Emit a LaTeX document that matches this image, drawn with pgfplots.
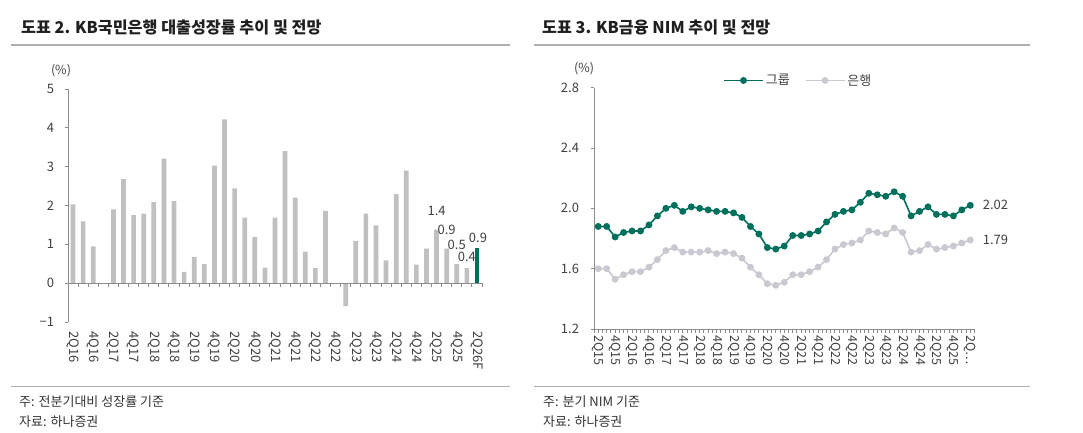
\documentclass[border=0pt]{standalone}
\usepackage{fontspec}
\setmainfont{Noto Sans CJK KR}
\usepackage{pgfplots}
\pgfplotsset{compat=1.18}
\definecolor{kbgreen}{RGB}{0,112,92}
\definecolor{bargray}{RGB}{192,192,192}
\definecolor{bankgray}{RGB}{202,200,208}
\definecolor{axisgray}{RGB}{140,140,140}
\definecolor{rulegray}{RGB}{175,175,175}
\definecolor{txt}{RGB}{64,64,64}
\begin{document}
\begin{tikzpicture}
\useasboundingbox (0,0) rectangle (1083bp,-433bp);
% titles and rules
\node[anchor=west, inner sep=0pt, font=\fontsize{16.2bp}{19bp}\selectfont\bfseries, text=black!88] at (21bp,-27.5bp) {도표 2. KB국민은행 대출성장률 추이 및 전망};
\node[anchor=west, inner sep=0pt, font=\fontsize{16.2bp}{19bp}\selectfont\bfseries, text=black!88] at (542bp,-27.5bp) {도표 3. KB금융 NIM 추이 및 전망};
\draw[rulegray, line width=1.2bp] (11bp,-45bp) -- (510bp,-45bp);
\draw[rulegray, line width=1.2bp] (534bp,-45bp) -- (1030bp,-45bp);
\draw[rulegray, line width=1.2bp] (11bp,-386.5bp) -- (510bp,-386.5bp);
\draw[rulegray, line width=1.2bp] (534bp,-386.5bp) -- (1030bp,-386.5bp);
% footnotes
\node[anchor=west, inner sep=0pt, font=\fontsize{13bp}{15bp}\selectfont, text=black!80] at (19bp,-401.5bp) {주: 전분기대비 성장률 기준};
\node[anchor=west, inner sep=0pt, font=\fontsize{13bp}{15bp}\selectfont, text=black!80] at (19bp,-421.5bp) {자료: 하나증권};
\node[anchor=west, inner sep=0pt, font=\fontsize{13bp}{15bp}\selectfont, text=black!80] at (543bp,-401.5bp) {주: 분기 NIM 기준};
\node[anchor=west, inner sep=0pt, font=\fontsize{13bp}{15bp}\selectfont, text=black!80] at (543bp,-421.5bp) {자료: 하나증권};
% units
\node[inner sep=0pt, font=\fontsize{12.5bp}{14bp}\selectfont, text=txt] at (61bp,-71bp) {(\%)};
\node[inner sep=0pt, font=\fontsize{12.5bp}{14bp}\selectfont, text=txt] at (584bp,-69bp) {(\%)};

% ---------------- left chart ----------------
\begin{axis}[
  at={(68bp,-322bp)}, anchor=south west,
  scale only axis, width=414bp, height=233bp,
  xmin=-0.5, xmax=40.5, ymin=-1, ymax=5,
  separate axis lines,
  axis y line=left, axis x line=bottom,
  y axis line style={axisgray, line width=1bp, -},
  x axis line style={draw=none},
  xtick={0,2,...,40},
  xticklabels={2Q16,4Q16,2Q17,4Q17,2Q18,4Q18,2Q19,4Q19,2Q20,4Q20,2Q21,4Q21,2Q22,4Q22,2Q23,4Q23,2Q24,4Q24,2Q25,4Q25,2Q26F},
  xtick style={draw=none},
  ytick={-1,0,1,2,3,4,5},
  yticklabels={−1,0,1,2,3,4,5},
  ytick style={axisgray, line width=1bp},
  tick align=outside, major tick length=3.5bp,
  xticklabel style={rotate=-90, anchor=west, font=\fontsize{13bp}{15bp}\selectfont, text=txt, inner ysep=0pt, inner xsep=6bp},
  yticklabel style={font=\fontsize{13bp}{15bp}\selectfont, text=txt, xshift=-7bp},
  clip=false,
]
\addplot[ybar, bar width=4.7bp, bar shift=0pt, fill=bargray, draw=none] coordinates {
 (0,2.03) (1,1.59) (2,0.95) (3,0) (4,1.90) (5,2.68) (6,1.75) (7,1.79) (8,2.09) (9,3.21)
 (10,2.11) (11,0.29) (12,0.68) (13,0.49) (14,3.03) (15,4.22) (16,2.44) (17,1.69) (18,1.19) (19,0.40)
 (20,1.69) (21,3.40) (22,2.20) (23,0.81) (24,0.39) (25,1.86) (26,0) (27,-0.59) (28,1.09) (29,1.79)
 (30,1.49) (31,0.59) (32,2.29) (33,2.90) (34,0.48) (35,0.89) (36,1.38) (37,0.89) (38,0.49) (39,0.39)
};
\addplot[ybar, bar width=4.7bp, bar shift=0pt, fill=kbgreen, draw=none] coordinates {(40,0.90)};
\draw[axisgray, line width=1bp] (axis cs:-0.5,0) -- (axis cs:40.5,0);
\pgfplotsinvokeforeach{-0.5,0.5,...,40.5}{\draw[axisgray, line width=1bp] (axis cs:#1,0) -- ([yshift=-4bp]axis cs:#1,0);}
\node[font=\fontsize{13bp}{15bp}\selectfont, text=txt, inner sep=0pt] at (axis cs:36,1.87) {1.4};
\node[font=\fontsize{13bp}{15bp}\selectfont, text=txt, inner sep=0pt] at (axis cs:37,1.36) {0.9};
\node[font=\fontsize{13bp}{15bp}\selectfont, text=txt, inner sep=0pt] at (axis cs:38,0.99) {0.5};
\node[font=\fontsize{13bp}{15bp}\selectfont, text=txt, inner sep=0pt] at (axis cs:39,0.67) {0.4};
\node[font=\fontsize{13bp}{15bp}\selectfont, text=txt, inner sep=0pt] at (axis cs:40.1,1.16) {0.9};
\end{axis}

% ---------------- right chart ----------------
\begin{axis}[
  at={(594bp,-329bp)}, anchor=south west,
  scale only axis, width=380.5bp, height=241.3bp,
  xmin=-0.5, xmax=44.5, ymin=1.2, ymax=2.8,
  separate axis lines,
  axis y line=left, axis x line=bottom,
  axis line style={axisgray, line width=1bp, -},
  xtick={0,2,...,44},
  xticklabels={2Q15,4Q15,2Q16,4Q16,2Q17,4Q17,2Q18,4Q18,2Q19,4Q19,2Q20,4Q20,2Q21,4Q21,2Q22,4Q22,2Q23,4Q23,2Q24,4Q24,2Q25,4Q25,2Q…},
  minor xtick={-0.5,0,...,44.5},
  ytick={1.2,1.6,2.0,2.4,2.8},
  yticklabels={1.2,1.6,2.0,2.4,2.8},
  every tick/.style={axisgray, line width=1bp},
  tick align=outside, major tick length=3.5bp, minor tick length=3.5bp,
  xticklabel style={rotate=-90, anchor=west, font=\fontsize{12.5bp}{15bp}\selectfont, text=txt, inner ysep=0pt, inner xsep=3bp},
  yticklabel style={font=\fontsize{13bp}{15bp}\selectfont, text=txt, xshift=-8bp},
  clip=false,
  legend columns=2,
  legend style={draw=none, fill=none, at={(0.339,1.03)}, anchor=west, inner sep=0pt,
    font=\fontsize{13bp}{15bp}\selectfont, text=txt,
    /tikz/every even column/.append style={column sep=13bp}},
  legend image code/.code={\draw[mark repeat=2, mark phase=2, #1] plot coordinates {(0bp,0bp) (19.5bp,0bp) (39bp,0bp)};},
]
\addplot[kbgreen, line width=1.6bp, mark=*, mark size=2.6bp] coordinates {
 (0,1.88) (1,1.88) (2,1.81) (3,1.84) (4,1.85) (5,1.85) (6,1.89) (7,1.95) (8,2.00) (9,2.02)
 (10,1.98) (11,2.01) (12,2.00) (13,1.99) (14,1.98) (15,1.98) (16,1.97) (17,1.94) (18,1.88) (19,1.83)
 (20,1.74) (21,1.73) (22,1.75) (23,1.82) (24,1.82) (25,1.83) (26,1.85) (27,1.91) (28,1.96) (29,1.98)
 (30,1.99) (31,2.04) (32,2.10) (33,2.09) (34,2.08) (35,2.11) (36,2.08) (37,1.95) (38,1.98) (39,2.01)
 (40,1.96) (41,1.96) (42,1.95) (43,1.99) (44,2.02)
};
\addlegendentry{그룹}
\addplot[bankgray, line width=1.6bp, mark=*, mark size=2.6bp] coordinates {
 (0,1.60) (1,1.60) (2,1.53) (3,1.56) (4,1.58) (5,1.58) (6,1.61) (7,1.66) (8,1.72) (9,1.74)
 (10,1.71) (11,1.71) (12,1.71) (13,1.72) (14,1.70) (15,1.71) (16,1.70) (17,1.67) (18,1.61) (19,1.56)
 (20,1.50) (21,1.49) (22,1.51) (23,1.56) (24,1.56) (25,1.58) (26,1.61) (27,1.66) (28,1.73) (29,1.76)
 (30,1.77) (31,1.79) (32,1.85) (33,1.84) (34,1.83) (35,1.87) (36,1.84) (37,1.71) (38,1.72) (39,1.76)
 (40,1.73) (41,1.74) (42,1.75) (43,1.77) (44,1.79)
};
\addlegendentry{은행}
\node[anchor=west, inner sep=0pt, xshift=12.4bp, font=\fontsize{13bp}{15bp}\selectfont, text=txt] at (axis cs:44,2.02) {2.02};
\node[anchor=west, inner sep=0pt, xshift=12.4bp, font=\fontsize{13bp}{15bp}\selectfont, text=txt] at (axis cs:44,1.79) {1.79};
\end{axis}
\end{tikzpicture}
\end{document}
